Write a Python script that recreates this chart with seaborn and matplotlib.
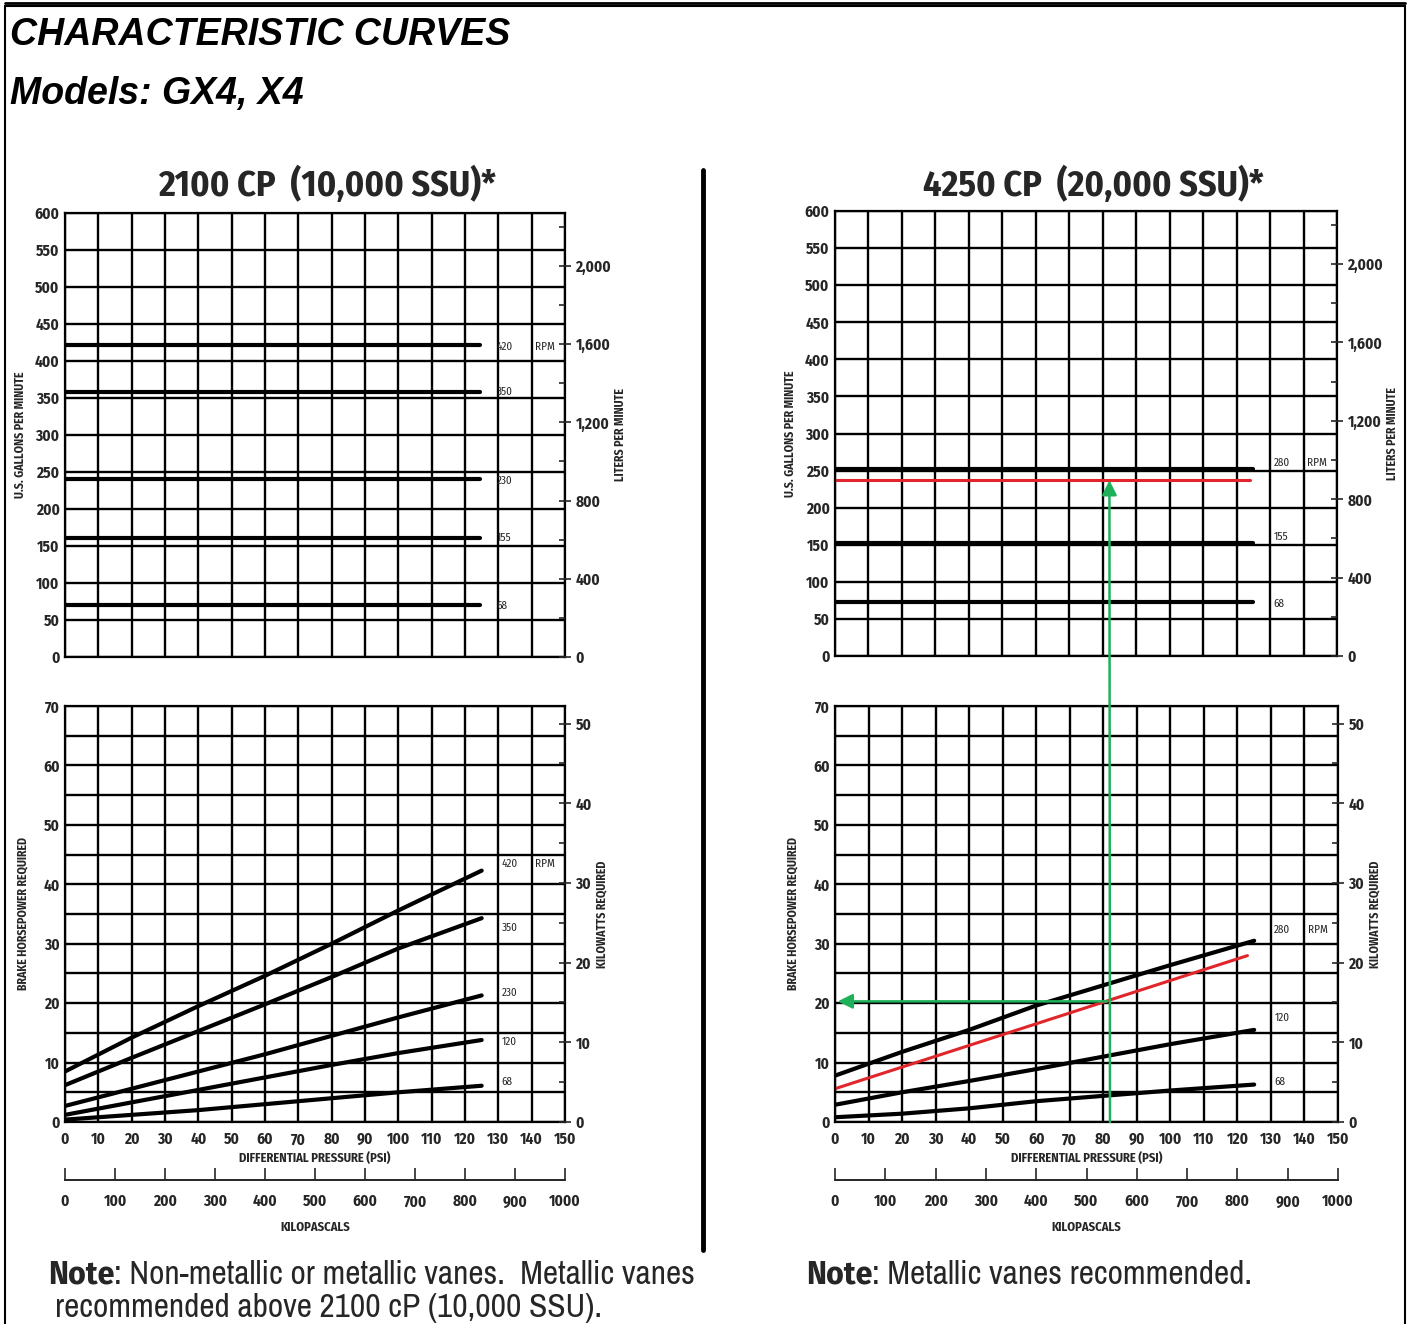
import numpy as np
import pandas as pd
import matplotlib
matplotlib.use("Agg")
import matplotlib.pyplot as plt
from matplotlib.patches import ConnectionPatch, Rectangle
from matplotlib.lines import Line2D
from matplotlib.ticker import MultipleLocator, FuncFormatter
import seaborn as sns

# ---- data ----
psi = [0, 20, 40, 60, 80, 100, 125]

# 2100 cP flow (gpm), flat lines
left_flow_rpm = ["420", "350", "230", "155", "68"]
left_flow_gpm = [421, 358, 240, 161, 70]
left_flow_end = 124.5

# 2100 cP brake horsepower
left_bhp_rpm = ["420", "350", "230", "120", "68"]
left_bhp_420 = [8.5, 14.2, 19.5, 24.6, 30.0, 35.6, 42.3]
left_bhp_350 = [6.2, 10.8, 15.3, 19.8, 24.4, 29.2, 34.3]
left_bhp_230 = [2.7, 5.6, 8.5, 11.4, 14.5, 17.6, 21.3]
left_bhp_120 = [1.2, 3.3, 5.4, 7.5, 9.6, 11.6, 13.8]
left_bhp_68 = [0.4, 1.2, 2.0, 3.0, 4.0, 5.0, 6.1]

# 4250 cP flow (gpm)
right_flow_rpm = ["280", "155", "68"]
right_flow_gpm = [252, 152, 73]
right_flow_end = 125
red_flow_gpm = 237

# 4250 cP brake horsepower
right_bhp_rpm = ["280", "120", "68"]
right_bhp_280 = [7.8, 11.8, 15.5, 19.6, 23.0, 26.4, 30.5]
right_bhp_120 = [2.9, 5.0, 6.9, 8.9, 11.0, 13.1, 15.5]
right_bhp_68 = [0.8, 1.4, 2.3, 3.5, 4.4, 5.3, 6.3]
red_bhp_psi = [0, 123]
red_bhp = [5.6, 28.0]

# worked example (green arrows)
example_psi = 82
example_bhp = 20.3

# rpm label positions
left_flow_lbl_y = [419, 358, 238, 161, 69]
left_bhp_lbl_y = [43.4, 32.6, 21.7, 13.5, 6.7]
right_flow_lbl_y = [261, 160, 70]
right_bhp_lbl_y = [32.3, 17.5, 6.7]

GPM_TO_LPM = 3.785
HP_TO_KW = 0.7457

sns.set_style("white")
NARROW = ["Archivo Narrow", "Liberation Sans", "DejaVu Sans"]
NARROW_B = ["Fira Sans Condensed", "Archivo Narrow", "Liberation Sans", "DejaVu Sans"]
WIDE = ["Liberation Sans", "DejaVu Sans"]
plt.rcParams["font.family"] = NARROW_B

W, H = 1411, 1324
fig = plt.figure(figsize=(W / 100, H / 100), dpi=100)
fig.patch.set_facecolor("white")

RED = "#e0262b"
GREEN = "#1fb15a"


def px_axes(x0, y0, x1, y1):
    return fig.add_axes([x0 / W, 1 - y1 / H, (x1 - x0) / W, (y1 - y0) / H])


def style_grid(ax, ymax, ystep, ylabels_step):
    ax.set_xlim(0, 150)
    ax.set_ylim(0, ymax)
    ax.xaxis.set_major_locator(MultipleLocator(10))
    ax.yaxis.set_major_locator(MultipleLocator(ylabels_step))
    ax.yaxis.set_minor_locator(MultipleLocator(ystep))
    ax.grid(True, which="both", color="black", lw=1.7)
    ax.tick_params(axis="both", which="both", length=0, labelsize=11, pad=4)
    ax.tick_params(axis="x", pad=7)
    for lab in ax.get_yticklabels():
        lab.set_fontweight("bold")
    for s in ax.spines.values():
        s.set_color("black")
        s.set_linewidth(1.6)
    ax.set_axisbelow(True)


def right_axis(ax, factor, top, major, minor, label, fmt, pad):
    ax2 = ax.twinx()
    ax2.set_ylim(0, top * factor)
    ax2.yaxis.set_major_locator(MultipleLocator(major))
    ax2.yaxis.set_minor_locator(MultipleLocator(minor))
    ax2.yaxis.set_major_formatter(FuncFormatter(fmt))
    ax2.tick_params(axis="y", which="major", direction="inout", length=9, width=1.2, labelsize=11, pad=3)
    ax2.tick_params(axis="y", which="minor", direction="in", length=4, width=1.2)
    for lab in ax2.get_yticklabels():
        lab.set_fontweight("bold")
    ax2.set_ylabel(label, fontsize=8.5, fontweight="bold", labelpad=pad)
    for s in ax2.spines.values():
        s.set_visible(False)
    return ax2


def flow_panel(ax, rpms, gpms, end, lbl_y, lbl_x):
    df = pd.DataFrame({
        "psi": [0, end] * len(rpms),
        "gpm": [g for g in gpms for _ in range(2)],
        "rpm": [r for r in rpms for _ in range(2)],
    })
    sns.lineplot(data=df, x="psi", y="gpm", hue="rpm", palette={r: "black" for r in rpms},
                 lw=3, legend=False, ax=ax, estimator=None)
    style_grid(ax, 600, 50, 50)
    ax.set_xticklabels([])
    ax.set_xlabel("")
    ax.set_ylabel("U.S. GALLONS PER MINUTE", fontsize=8.5, fontweight="bold", labelpad=6)
    for r, y in zip(rpms, lbl_y):
        ax.text(lbl_x, y, r, fontsize=8, va="center", ha="left")
    ax.text(144, lbl_y[0], "RPM", fontsize=8, va="center", ha="center")
    right_axis(ax, GPM_TO_LPM, 600, 400, 200, "LITERS PER MINUTE",
               lambda v, p: f"{v:,.0f}", 2)


def bhp_panel(ax, rpms, series, lbl_y, lbl_x):
    df = pd.DataFrame({
        "psi": psi * len(rpms),
        "bhp": [v for s in series for v in s],
        "rpm": [r for r in rpms for _ in psi],
    })
    sns.lineplot(data=df, x="psi", y="bhp", hue="rpm", palette={r: "black" for r in rpms},
                 lw=3, legend=False, ax=ax, estimator=None)
    style_grid(ax, 70, 5, 10)
    ax.set_xlabel("DIFFERENTIAL PRESSURE (PSI)", fontsize=9, fontweight="bold", labelpad=3)
    ax.set_ylabel("BRAKE HORSEPOWER REQUIRED", fontsize=8.5, fontweight="bold", labelpad=10)
    for lab in ax.get_xticklabels():
        lab.set_fontweight("bold")
    for r, y in zip(rpms, lbl_y):
        ax.text(lbl_x, y, r, fontsize=8, va="center", ha="left")
    ax.text(144, lbl_y[0], "RPM", fontsize=8, va="center", ha="center")
    right_axis(ax, HP_TO_KW, 70, 10, 5, "KILOWATTS REQUIRED", lambda v, p: f"{v:.0f}", 3)
    # kilopascal scale below
    sec = ax.secondary_xaxis(-58 / 416, functions=(lambda x: x * 1000 / 150, lambda k: k * 150 / 1000))
    sec.xaxis.set_major_locator(MultipleLocator(100))
    sec.tick_params(direction="in", length=9, width=1.2, labelsize=11, pad=10)
    sec.spines["bottom"].set_linewidth(1.4)
    for lab in sec.get_xticklabels():
        lab.set_fontweight("bold")
    sec.set_xlabel("KILOPASCALS", fontsize=9, fontweight="bold", labelpad=8)


# ---- left column: 2100 cP ----
ax_lt = px_axes(65, 213, 565, 657)
flow_panel(ax_lt, left_flow_rpm, left_flow_gpm, left_flow_end, left_flow_lbl_y, 129.5)

ax_lb = px_axes(65, 706, 565, 1122)
bhp_panel(ax_lb, left_bhp_rpm, [left_bhp_420, left_bhp_350, left_bhp_230, left_bhp_120, left_bhp_68],
          left_bhp_lbl_y, 131)

# ---- right column: 4250 cP ----
ax_rt = px_axes(835, 211, 1337, 656)
flow_panel(ax_rt, right_flow_rpm, right_flow_gpm, right_flow_end, right_flow_lbl_y, 131)
sns.lineplot(x=[0, 124], y=[red_flow_gpm, red_flow_gpm], color=RED, lw=2.2, ax=ax_rt)

ax_rb = px_axes(835, 706, 1338, 1122)
bhp_panel(ax_rb, right_bhp_rpm, [right_bhp_280, right_bhp_120, right_bhp_68], right_bhp_lbl_y, 131)
sns.lineplot(x=red_bhp_psi, y=red_bhp, color=RED, lw=2.2, ax=ax_rb)

# worked example arrows
con = ConnectionPatch(xyA=(example_psi, 0), coordsA=ax_rb.transData,
                      xyB=(example_psi, red_flow_gpm), coordsB=ax_rt.transData,
                      arrowstyle="-|>", mutation_scale=22, color=GREEN, lw=1.8, zorder=10)
fig.add_artist(con)
ax_rb.annotate("", xy=(0, example_bhp), xytext=(example_psi, example_bhp),
               arrowprops=dict(arrowstyle="-|>", mutation_scale=22, color=GREEN, lw=1.8),
               zorder=10)

# ---- headings ----
fig.text(10 / W, 1 - 35 / H, "CHARACTERISTIC CURVES", fontsize=27, fontweight="bold",
         fontstyle="italic", va="center", ha="left", family=WIDE, color="black")
fig.text(10 / W, 1 - 94 / H, "Models: GX4, X4", fontsize=27, fontweight="bold",
         fontstyle="italic", va="center", ha="left", family=WIDE, color="black")
fig.text(327 / W, 1 - 185 / H, "2100 CP  (10,000 SSU)*", fontsize=26, fontweight="bold",
         va="center", ha="center")
fig.text(1093 / W, 1 - 185 / H, "4250 CP  (20,000 SSU)*", fontsize=26, fontweight="bold",
         va="center", ha="center")

# notes
bg = fig.add_axes([0, 0, 1, 1], zorder=-5)
bg.axis("off")
bg.set_xlim(0, W)
bg.set_ylim(H, 0)
n1 = bg.text(48, 1283, "Note", fontsize=24, fontweight="bold", va="baseline", ha="left",
             family=NARROW_B)
bg.annotate(": Non-metallic or metallic vanes.  Metallic vanes", xy=(1, 0), xycoords=n1,
            fontsize=24, va="bottom", ha="left", family=NARROW)
bg.text(55, 1317, "recommended above 2100 cP (10,000 SSU).", fontsize=24, va="baseline",
        ha="left", family=NARROW)
n2 = bg.text(806, 1283, "Note", fontsize=24, fontweight="bold", va="baseline", ha="left",
             family=NARROW_B)
bg.annotate(": Metallic vanes recommended.", xy=(1, 0), xycoords=n2,
            fontsize=24, va="bottom", ha="left", family=NARROW)

# divider and frame
fig.add_artist(Line2D([703 / W, 703 / W], [1 - 170 / H, 1 - 1250 / H], color="black", lw=3.5))
fig.add_artist(Rectangle((5 / W, -0.01), 1400 / W, 1.01 - 6 / H, transform=fig.transFigure,
                         fill=False, ec="black", lw=1.5))
fig.add_artist(Line2D([5 / W, 1405 / W], [1 - 3 / H, 1 - 3 / H], color="black", lw=2))

fig.savefig("out.png", dpi=100)
